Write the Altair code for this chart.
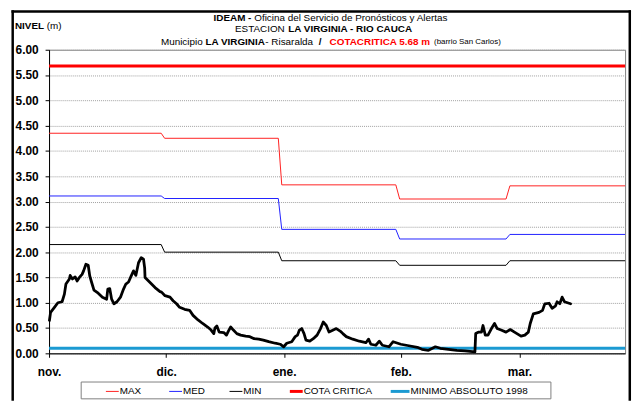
import altair as alt
import pandas as pd

# ---------------- data ----------------
# observed water level (m); day = days since 1 Nov
obs_day = [0.1, 0.4, 1.4, 2.3, 3.4, 4.0, 4.4, 5.3, 5.5, 6.1, 6.8, 7.3, 7.9, 8.6, 9.0, 9.6,
           10.2, 10.6, 11.1, 11.7, 12.8, 13.9, 15.0, 15.3, 15.8, 16.3, 16.9, 17.7, 18.6,
           19.4, 20.0, 20.7, 21.4, 22.0, 22.6, 23.3, 24.0, 24.6, 24.9, 25.0, 26.3, 27.6,
           28.9, 29.3, 30.2, 31.5, 32.3, 33.2, 34.0, 35.3, 36.6, 37.5, 38.8, 40.0, 41.3,
           42.2, 42.9, 43.2, 43.7, 44.3, 45.5, 46.2, 46.7, 47.3, 48.0, 48.9, 49.9, 51.2,
           52.3, 53.4, 54.6, 55.8, 57.2, 58.9, 60.2, 61.1, 61.9, 63.2, 64.1, 64.7, 65.2,
           65.8, 66.4, 66.9, 67.9, 68.8, 69.8, 70.7, 71.4, 72.2, 72.9, 74.0, 74.8, 75.8,
           76.5, 77.4, 79.1, 80.8, 82.5, 83.2, 83.8, 85.1, 86.0, 86.8, 88.5, 89.6, 90.4,
           91.6, 93.7, 95.9, 97.1, 98.8, 100.6, 101.9, 104.0, 106.2, 108.3, 110.9, 111.1,
           111.9, 112.6, 113.0, 113.6, 114.3, 115.2, 116.0, 116.7, 117.7, 119.0, 120.1,
           121.2, 122.9, 123.9, 124.8, 125.3, 126.1, 127.6, 128.5, 129.1, 130.2, 131.0,
           131.9, 132.3, 133.0, 133.6, 134.2, 135.8]
obs_level = [0.65, 0.81, 0.91, 1.00, 1.02, 1.17, 1.37, 1.47, 1.54, 1.47, 1.51, 1.43, 1.50,
             1.56, 1.63, 1.76, 1.74, 1.53, 1.40, 1.25, 1.19, 1.11, 1.07, 1.27, 1.28, 1.07,
             0.98, 1.02, 1.11, 1.27, 1.37, 1.41, 1.53, 1.63, 1.54, 1.79, 1.89, 1.86, 1.69,
             1.50, 1.40, 1.30, 1.22, 1.21, 1.14, 1.11, 1.04, 0.98, 0.91, 0.87, 0.85, 0.75,
             0.66, 0.59, 0.52, 0.46, 0.39, 0.50, 0.54, 0.42, 0.41, 0.36, 0.44, 0.52, 0.46,
             0.39, 0.36, 0.34, 0.33, 0.29, 0.28, 0.26, 0.23, 0.20, 0.18, 0.13, 0.20, 0.23,
             0.33, 0.36, 0.46, 0.49, 0.39, 0.26, 0.24, 0.29, 0.36, 0.49, 0.62, 0.55, 0.42,
             0.46, 0.49, 0.44, 0.39, 0.33, 0.28, 0.24, 0.21, 0.28, 0.18, 0.16, 0.24, 0.16,
             0.13, 0.23, 0.21, 0.18, 0.15, 0.12, 0.08, 0.06, 0.13, 0.10, 0.08, 0.06, 0.05,
             0.03, 0.39, 0.42, 0.42, 0.55, 0.36, 0.36, 0.49, 0.59, 0.49, 0.46, 0.42, 0.47,
             0.42, 0.34, 0.36, 0.42, 0.59, 0.78, 0.81, 0.85, 0.98, 0.99, 0.89, 0.94, 1.02,
             0.98, 1.11, 1.02, 0.98]

month_labels = ["nov.", "dic.", "ene.", "feb.", "mar."]
month_ticks = [0, 30.5, 61.2, 91.6, 122.5]

# monthly historic statistics (step lines)
step_days = [0, 29.2, 30.1, 59.7, 60.6, 90.3, 91.3, 119.0, 120.0, 150]
max_vals = [4.35, 4.25, 3.33, 3.05, 3.31]
med_vals = [3.11, 3.06, 2.45, 2.26, 2.35]
min_vals = [2.15, 2.00, 1.83, 1.74, 1.83]
cota_critica = 5.68
minimo_1998 = 0.10

legend_names = ["MAX", "MED", "MIN", "COTA CRITICA", "MINIMO ABSOLUTO 1998"]
legend_colors = ["#ff2020", "#2020ff", "#000000", "#ff0000", "#1b9ad2"]
legend_widths = [1, 1, 1, 3, 3]

y_ticks = [i * 0.5 for i in range(13)]

# ---------------- frames ----------------
obs_df = pd.DataFrame({"day": obs_day, "level": obs_level})
rows = []
for name, vals in zip(["MAX", "MED", "MIN"], [max_vals, med_vals, min_vals]):
    for i, d in enumerate(step_days):
        rows.append({"serie": name, "day": d, "level": vals[i // 2]})
step_df = pd.DataFrame(rows)
hl_df = pd.DataFrame({"serie": ["COTA CRITICA", "MINIMO ABSOLUTO 1998"],
                      "level": [cota_critica, minimo_1998]})
one = pd.DataFrame({"k": [0]})

FONT = "Liberation Sans"

label_expr = " : ".join(f"datum.value == {t} ? '{l}'" for t, l in zip(month_ticks, month_labels)) + " : ''"

x_enc = alt.X("day:Q", scale=alt.Scale(domain=[0, 150], nice=False, zero=False),
              axis=alt.Axis(values=month_ticks, labelExpr=label_expr, title=None, grid=False,
                            labelFont=FONT, labelFontSize=12, labelFontWeight="bold",
                            labelColor="black", tickSize=4, tickColor="black",
                            domainColor="black", labelPadding=9, labelFlush=False))
y_enc = alt.Y("level:Q", scale=alt.Scale(domain=[0, 6], nice=False),
              axis=alt.Axis(values=y_ticks, format=".2f", title=None, grid=True,
                            gridDash=[1, 1], gridColor="#a0a0a0", labelFont=FONT,
                            labelFontSize=12, labelFontWeight="bold", labelColor="black",
                            tickSize=4, tickColor="black", domainColor="black",
                            labelPadding=7))
color_enc = alt.Color("serie:N", scale=alt.Scale(domain=legend_names, range=legend_colors),
                      legend=None)

steps = alt.Chart(step_df).mark_line(strokeWidth=1, interpolate="linear").encode(
    x=x_enc, y=y_enc, detail="serie:N", color=color_enc)

hlines = alt.Chart(hl_df).mark_rule(strokeWidth=3).encode(y=y_enc, color=color_enc)

obs = alt.Chart(obs_df).mark_line(color="black", strokeWidth=2.8, strokeJoin="round",
                                  strokeCap="round").encode(x=x_enc, y=y_enc)

# ---------------- text & frame (pixel layout) ----------------
W_REG = {' ': 278, '(': 333, ')': 333, '-': 333, '.': 278, '/': 278, 'A': 667, 'B': 667,
         'C': 722, 'D': 722, 'E': 667, 'I': 278, 'L': 556, 'M': 833, 'N': 722, 'O': 778,
         'P': 667, 'R': 722, 'S': 667, 'T': 611, 'U': 722, 'V': 667, 'a': 556, 'b': 556,
         'c': 500, 'd': 556, 'e': 556, 'f': 278, 'i': 222, 'l': 222, 'm': 833, 'n': 556,
         'o': 556, 'p': 556, 'r': 333, 's': 500, 't': 278, 'u': 556, 'v': 500, 'y': 500,
         'ó': 556}
W_BOLD = {' ': 278, '-': 333, '/': 278, '.': 278, 'A': 722, 'C': 722, 'D': 722, 'E': 667,
          'G': 778, 'I': 278, 'L': 611, 'M': 833, 'N': 722, 'O': 778, 'R': 722, 'T': 611,
          'U': 722, 'V': 667, 'm': 889}


def tw(s, size, bold):
    tab = W_BOLD if bold else W_REG
    return sum(tab.get(c, 556) for c in s) * size / 1000.0


def text_layer(txt, x, y, size=10, bold=False, color="black", align="left"):
    return alt.Chart(one).mark_text(text=txt, font=FONT, fontSize=size,
                                    fontWeight="bold" if bold else "normal", color=color,
                                    align=align, baseline="middle").encode(
        x=alt.value(x), y=alt.value(y))


OX, OY = 49.5, 48.0   # page position of plot origin


def bar(x0, x1, y0, y1, col="#000000"):
    return alt.Chart(one).mark_rect(fill=col, strokeWidth=0).encode(
        x=alt.value(x0 - OX), x2=alt.value(x1 - OX), y=alt.value(y0 - OY), y2=alt.value(y1 - OY))


layers = []
title_lines = [
    (334.5, 15.5, [("IDEAM - ", 10, True, "black"),
                   ("Oficina del Servicio de Pronósticos y Alertas", 10, False, "black")]),
    (327.5, 27.5, [("ESTACION ", 10, False, "black"),
                   ("LA VIRGINIA - RIO CAUCA", 10, True, "black")]),
    (334.5, 40.0, [("Municipio ", 10, False, "black"), ("LA VIRGINIA", 10, True, "black"),
                   (" - Risaralda ", 10, False, "black"), (" /  ", 10, True, "black"),
                   ("COTACRITICA 5.68 m ", 10, True, "#ff0000"),
                   ("(barrio San Carlos)", 8, False, "black")]),
]
for cx, cy, segs in title_lines:
    total = sum(tw(s, sz, b) for s, sz, b, c in segs)
    x = cx - total / 2
    for s, sz, b, c in segs:
        layers.append(text_layer(s, x - OX, cy - OY, sz, b, c))
        x += tw(s, sz, b)

layers.append(text_layer("NIVEL", 15 - OX, 24 - OY, 10, True))
layers.append(text_layer("(m)", 15 + tw("NIVEL ", 10, True) - OX, 24 - OY, 10, False))

# outer frame as filled black bars (bottom edge falls outside the picture)
frame = [bar(11.5, 14, 8, 403), bar(635.5, 638, 8, 403), bar(11.5, 638, 8, 10.5)]

# legend
leg_box = alt.Chart(one).mark_rect(fill="white", stroke="#808080", strokeWidth=1).encode(
    x=alt.value(82 - OX), x2=alt.value(557 - OX), y=alt.value(384 - OY), y2=alt.value(401 - OY))
leg_sym_x = [107, 171, 232, 293, 395]
leg_sym_len = [13, 13, 13, 13, 19]
leg_y = 393.5 - OY
leg_layers = [leg_box]
for name, col, sw, sx, sl in zip(legend_names, legend_colors, legend_widths, leg_sym_x, leg_sym_len):
    leg_layers.append(alt.Chart(one).mark_rule(color=col, strokeWidth=sw).encode(
        x=alt.value(sx - OX), x2=alt.value(sx + sl - OX), y=alt.value(leg_y)))
    leg_layers.append(text_layer(name, sx + sl + 1 - OX, leg_y, 10, False))

chart = alt.layer(steps, hlines, obs, *layers, *frame, *leg_layers).properties(
    width=582.5, height=307,
    padding={"left": 41.5, "top": 40, "right": 8, "bottom": 48},
    autosize=alt.AutoSizeParams(type="none"),
    background="white",
).configure_view(stroke="#808080", strokeWidth=1)

chart.save("out.html", embed_options={"renderer": "svg", "actions": False})
